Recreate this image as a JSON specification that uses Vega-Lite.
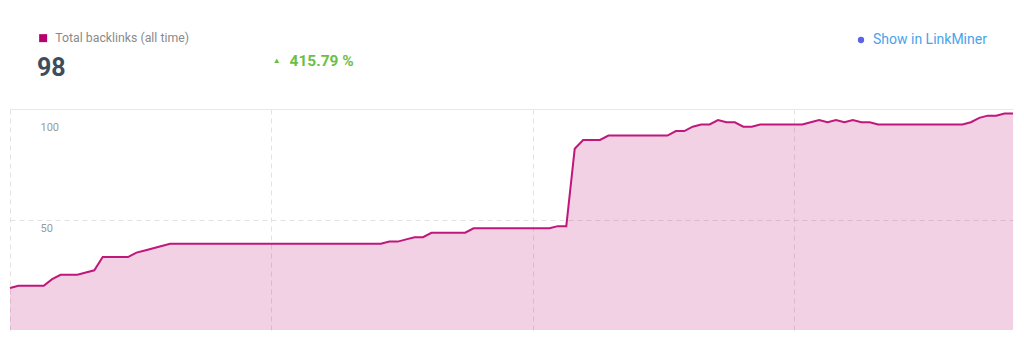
{
  "$schema": "https://vega.github.io/schema/vega-lite/v6.json",
  "width": 1003,
  "height": 221,
  "autosize": {"type": "none"},
  "padding": {"left": 10, "top": 109, "right": 11, "bottom": 9},
  "background": "#ffffff",
  "config": {"view": {"stroke": null}, "font": "Roboto"},
  "datasets": {
    "backlinks": [
      {"day": 0, "total": 19}, {"day": 1, "total": 20}, {"day": 2, "total": 20}, {"day": 3, "total": 20}, {"day": 4, "total": 20},
      {"day": 5, "total": 23}, {"day": 6, "total": 25}, {"day": 7, "total": 25}, {"day": 8, "total": 25}, {"day": 9, "total": 26},
      {"day": 10, "total": 27}, {"day": 11, "total": 33}, {"day": 12, "total": 33}, {"day": 13, "total": 33}, {"day": 14, "total": 33},
      {"day": 15, "total": 35}, {"day": 16, "total": 36}, {"day": 17, "total": 37}, {"day": 18, "total": 38}, {"day": 19, "total": 39},
      {"day": 20, "total": 39}, {"day": 21, "total": 39}, {"day": 22, "total": 39}, {"day": 23, "total": 39}, {"day": 24, "total": 39},
      {"day": 25, "total": 39}, {"day": 26, "total": 39}, {"day": 27, "total": 39}, {"day": 28, "total": 39}, {"day": 29, "total": 39},
      {"day": 30, "total": 39}, {"day": 31, "total": 39}, {"day": 32, "total": 39}, {"day": 33, "total": 39}, {"day": 34, "total": 39},
      {"day": 35, "total": 39}, {"day": 36, "total": 39}, {"day": 37, "total": 39}, {"day": 38, "total": 39}, {"day": 39, "total": 39},
      {"day": 40, "total": 39}, {"day": 41, "total": 39}, {"day": 42, "total": 39}, {"day": 43, "total": 39}, {"day": 44, "total": 39},
      {"day": 45, "total": 40}, {"day": 46, "total": 40}, {"day": 47, "total": 41}, {"day": 48, "total": 42}, {"day": 49, "total": 42},
      {"day": 50, "total": 44}, {"day": 51, "total": 44}, {"day": 52, "total": 44}, {"day": 53, "total": 44}, {"day": 54, "total": 44},
      {"day": 55, "total": 46}, {"day": 56, "total": 46}, {"day": 57, "total": 46}, {"day": 58, "total": 46}, {"day": 59, "total": 46},
      {"day": 60, "total": 46}, {"day": 61, "total": 46}, {"day": 62, "total": 46}, {"day": 63, "total": 46}, {"day": 64, "total": 46},
      {"day": 65, "total": 47}, {"day": 66, "total": 47}, {"day": 67, "total": 82}, {"day": 68, "total": 86}, {"day": 69, "total": 86},
      {"day": 70, "total": 86}, {"day": 71, "total": 88}, {"day": 72, "total": 88}, {"day": 73, "total": 88}, {"day": 74, "total": 88},
      {"day": 75, "total": 88}, {"day": 76, "total": 88}, {"day": 77, "total": 88}, {"day": 78, "total": 88}, {"day": 79, "total": 90},
      {"day": 80, "total": 90}, {"day": 81, "total": 92}, {"day": 82, "total": 93}, {"day": 83, "total": 93}, {"day": 84, "total": 95},
      {"day": 85, "total": 94}, {"day": 86, "total": 94}, {"day": 87, "total": 92}, {"day": 88, "total": 92}, {"day": 89, "total": 93},
      {"day": 90, "total": 93}, {"day": 91, "total": 93}, {"day": 92, "total": 93}, {"day": 93, "total": 93}, {"day": 94, "total": 93},
      {"day": 95, "total": 94}, {"day": 96, "total": 95}, {"day": 97, "total": 94}, {"day": 98, "total": 95}, {"day": 99, "total": 94},
      {"day": 100, "total": 95}, {"day": 101, "total": 94}, {"day": 102, "total": 94}, {"day": 103, "total": 93}, {"day": 104, "total": 93},
      {"day": 105, "total": 93}, {"day": 106, "total": 93}, {"day": 107, "total": 93}, {"day": 108, "total": 93}, {"day": 109, "total": 93},
      {"day": 110, "total": 93}, {"day": 111, "total": 93}, {"day": 112, "total": 93}, {"day": 113, "total": 93}, {"day": 114, "total": 94},
      {"day": 115, "total": 96}, {"day": 116, "total": 97}, {"day": 117, "total": 97}, {"day": 118, "total": 98}, {"day": 119, "total": 98}
    ]
  },
  "encoding": {
    "x": {
      "field": "day", "type": "quantitative",
      "scale": {"domain": [0, 119], "nice": false, "zero": false},
      "axis": {"orient": "top", "values": [0, 31, 62, 93], "grid": true, "gridDash": [5, 4], "gridColor": "#e2e2e2", "domain": true, "domainColor": "#e8e8e8", "ticks": false, "labels": false, "title": null}
    },
    "y": {
      "field": "total", "type": "quantitative",
      "scale": {"domain": [0, 100], "nice": false},
      "axis": {"orient": "left", "values": [50, 100], "grid": true, "gridDash": [5, 4], "gridColor": "#e2e2e2", "domain": false, "ticks": false, "tickSize": 0, "labelAlign": "left", "labelBaseline": "top", "labelPadding": -30, "labelOffset": {"condition": {"test": "datum.value == 100", "value": 12}, "value": 3}, "labelFontSize": 11, "labelColor": "#9a9a9a", "labelFlush": false, "title": null}
    }
  },
  "layer": [
    {"data": {"name": "backlinks"}, "mark": {"type": "area", "color": "#c0177a", "fillOpacity": 0.2}},
    {"data": {"name": "backlinks"}, "mark": {"type": "line", "color": "#c0177a", "strokeWidth": 2}},
    {
      "data": {"values": []},
      "mark": {"type": "point", "filled": true, "shape": "square"},
      "encoding": {
        "color": {"field": "metric", "type": "nominal", "scale": {"domain": ["Total backlinks (all time)"], "range": ["#b5006e"]},
          "legend": {"orient": "none", "legendX": 27, "legendY": -77, "title": "98", "titleOrient": "bottom", "titleAnchor": "start", "titlePadding": 12, "titleFontSize": 25, "titleFontWeight": "bold", "titleColor": "#3c4e5c", "titleFont": "Roboto", "symbolType": "square", "symbolSize": 64, "symbolOpacity": 1, "labelOffset": 6, "labelFontSize": 12.3, "labelColor": "#8a8a8a", "labelFont": "Roboto", "padding": 0}}
      }
    },
    {
      "data": {"values": []},
      "mark": {"type": "point", "filled": true, "color": "#6cbf45"},
      "encoding": {
        "shape": {"field": "change", "type": "nominal", "scale": {"domain": ["415.79 %"], "range": ["triangle-up"]},
          "legend": {"orient": "none", "legendX": 259, "legendY": -56, "title": null, "symbolSize": 25, "symbolOpacity": 1, "symbolFillColor": "#6cbf45", "symbolStrokeColor": "#6cbf45", "labelOffset": 5, "labelFontSize": 15.5, "labelFontWeight": "bold", "labelColor": "#6cbf45", "labelFont": "Roboto", "padding": 0}}
      }
    },
    {
      "data": {"values": []},
      "mark": {"type": "point", "filled": true, "shape": "circle"},
      "encoding": {
        "fill": {"field": "link", "type": "nominal", "scale": {"domain": ["Show in LinkMiner"], "range": ["#5b63e6"]},
          "legend": {"orient": "none", "legendX": 844, "legendY": -76, "title": null, "symbolType": "circle", "symbolSize": 40, "symbolOpacity": 1, "labelOffset": 5, "labelFontSize": 14, "labelColor": "#4aa3ec", "labelFont": "Roboto", "padding": 0}}
      }
    }
  ]
}
